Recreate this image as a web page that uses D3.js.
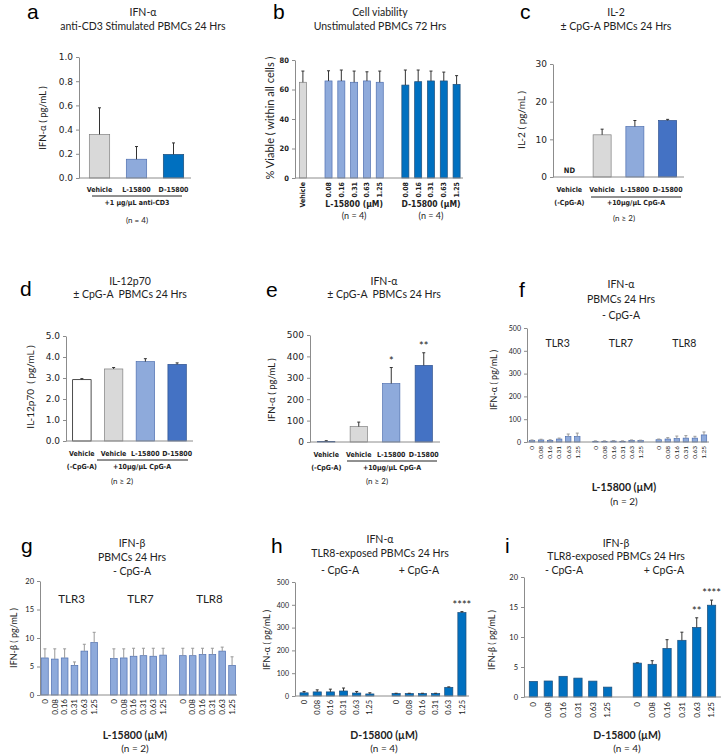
<!DOCTYPE html>
<html>
<head>
<meta charset="utf-8">
<script src="https://cdn.jsdelivr.net/npm/d3@7"></script>
<style>body{margin:0;background:#fff} text{white-space:pre}</style>
</head>
<body>
<script>
// ---- data ----
const doses = ["0", "0.08", "0.16", "0.31", "0.63", "1.25"];
const bDoses = ["0.08", "0.16", "0.31", "0.63", "1.25"];
const tlrs = ["TLR3", "TLR7", "TLR8"];
const cpgSets = ["- CpG-A", "+ CpG-A"];

// a: IFN-a, anti-CD3 stimulated
const aGroups = ["Vehicle", "L-15800", "D-15800"];
const aMean = [0.36, 0.155, 0.195];
const aSD = [0.22, 0.105, 0.095];

// b: cell viability
const bVehicleMean = 64.9, bVehicleSD = 7.6;
const bLMean = [65.8, 65.8, 64.9, 65.8, 64.9];
const bLSD = [6.9, 7.4, 7.6, 6.2, 7.6];
const bDMean = [63.0, 65.3, 65.8, 65.8, 63.5];
const bDSD = [10.2, 7.9, 6.7, 6.0, 5.9];

// c: IL-2 (first group not detected)
const cdeGroups = ["Vehicle", "Vehicle", "L-15800", "D-15800"];
const cMean = [null, 11.2, 13.4, 15.0];
const cSD = [null, 1.5, 1.6, 0.3];

// d: IL-12p70
const dMean = [2.92, 3.43, 3.78, 3.65];
const dSD = [0.05, 0.07, 0.14, 0.07];

// e: IFN-a +/- CpG-A
const eMean = [3, 72, 273, 358];
const eSD = [3, 21, 75, 59];
const eStars = ["", "", "*", "**"];

// f: IFN-a, L-15800 by TLR
const fMean = [[6, 9, 7, 13, 24, 24], [3, 3, 4, 3, 7, 6], [10, 13, 15, 17, 17, 31]];
const fSD = [[3, 3, 3, 4, 11, 15], [2, 2, 2, 2, 2, 2], [3, 6, 11, 11, 8, 13]];

// g: IFN-b, L-15800 by TLR
const gMean = [[6.5, 6.3, 6.5, 5.2, 7.7, 9.2], [6.4, 6.5, 6.8, 6.9, 6.8, 7.0], [6.9, 6.9, 7.1, 7.1, 7.7, 5.2]];
const gSD = [[1.6, 1.8, 1.6, 0.6, 1.2, 1.8], [1.7, 1.6, 1.4, 1.3, 1.4, 1.2], [1.3, 1.3, 1.1, 1.1, 0.7, 1.5]];

// h: IFN-a, TLR8-exposed, D-15800
const hMean = [[14, 18, 18, 22, 13, 9], [11, 11, 11, 11, 38, 366]];
const hSD = [[6, 9, 12, 13, 7, 5], [1, 1, 1, 1, 2, 4]];
const hStars = [["", "", "", "", "", ""], ["", "", "", "", "", "****"]];

// i: IFN-b, TLR8-exposed, D-15800
const iMean = [[2.6, 2.67, 3.45, 3.15, 2.65, 1.65], [5.65, 5.45, 8.1, 9.45, 11.6, 15.3]];
const iSD = [[0, 0, 0, 0, 0, 0], [0.05, 0.6, 1.45, 1.35, 1.6, 0.85]];
const iStars = [["", "", "", "", "", ""], ["", "", "", "", "**", "****"]];

// ---- style ----
const CAL = "Lato, 'Open Sans', sans-serif";
const NAR = "'DejaVu Sans Condensed', 'Liberation Sans Narrow', 'DejaVu Sans', sans-serif";
const VER = "'DejaVu Sans', Verdana, sans-serif";
const AXIS = "#8c8c8c";
const WHITE = "#ffffff", GREY = "#d9d9d9", LIGHT = "#8eaadb", DARK = "#0070c0", MID = "#4472c4";
const STROKE = {[WHITE]: "#000", [GREY]: "#808080", [LIGHT]: "#4f6fb0", [DARK]: "#1f4e79", [MID]: "#2f528f"};

const svg = d3.select("body").append("svg").attr("width", 726).attr("height", 755);

function txt(g, x, y, s, o = {}) {
  return g.append("text").attr("x", x).attr("y", y).text(s)
    .attr("text-anchor", o.anchor || "middle")
    .attr("font-family", o.family || CAL)
    .attr("font-size", o.size || 10.5)
    .attr("font-weight", o.weight || "normal")
    .attr("fill", o.fill || "#222");
}

function panel(o) {
  const g = svg.append("g");
  const y = d3.scaleLinear().domain([0, o.yMax]).range([o.yBottom, o.yTop]);
  const x = d3.scaleBand().domain(d3.range(o.nSlots)).range(o.band)
      .paddingInner(o.pad).paddingOuter(o.pad / 2);
  const cx = s => x(s) + x.bandwidth() / 2;

  txt(g, o.letter[1], o.letter[2], o.letter[0],
      {anchor: "start", family: "'Liberation Sans', Arial, sans-serif", size: 21, fill: "#000"});
  o.titles.forEach(t => txt(g, t[1], t[2], t[0], {size: t[3] || 10.5}));

  const ya = g.append("g").attr("transform", `translate(${o.axisX},0)`)
    .call(d3.axisLeft(y).tickValues(d3.range(0, o.yMax + o.step / 2, o.step))
      .tickFormat(d3.format(o.fmt)).tickSize(3).tickSizeOuter(0).tickPadding(3));
  ya.select(".domain").attr("stroke", AXIS);
  ya.selectAll(".tick line").attr("stroke", AXIS);
  ya.selectAll(".tick text").attr("font-family", o.tickFamily || VER).attr("font-size", o.tickSize || 9)
    .attr("font-weight", o.tickWeight || "normal").attr("fill", "#222");

  txt(g, 0, 0, o.ylabel, {size: o.ylabelSize || 9.5})
    .attr("dy", "0.35em")
    .attr("transform", `translate(${o.ylabelPos[0]},${o.ylabelPos[1]}) rotate(-90)`);

  const bars = o.bars.filter(d => d.value != null);
  g.append("g").selectAll("rect").data(bars).join("rect")
    .attr("x", d => x(d.slot)).attr("width", x.bandwidth())
    .attr("y", d => y(d.value)).attr("height", d => y(0) - y(d.value))
    .attr("fill", d => d.color).attr("stroke", d => STROKE[d.color]).attr("stroke-width", 0.7);

  g.append("g").attr("stroke", o.errColor || "#333").attr("stroke-width", 1).attr("fill", "none")
    .selectAll("path").data(bars.filter(d => d.sd > 0)).join("path")
    .attr("d", d => `M${cx(d.slot)},${y(d.value)}V${y(d.value + d.sd)}M${cx(d.slot) - 1.5},${y(d.value + d.sd)}h3`);

  g.append("line").attr("x1", o.axisX).attr("x2", o.axisEnd)
    .attr("y1", y(0)).attr("y2", y(0)).attr("stroke", AXIS);

  g.selectAll(null).data(bars.filter(d => d.star)).join("text")
    .attr("x", d => cx(d.slot)).attr("y", d => y(d.value + d.sd) - 3)
    .attr("text-anchor", "middle").attr("font-family", CAL).attr("font-size", 11)
    .attr("fill", "#222").text(d => d.star);

  return {g, x, y, cx};
}

function rotLabels(p, slots, labels, top, o = {}) {
  p.g.selectAll(null).data(slots).join("text")
    .attr("transform", s => `translate(${p.cx(s)},${top}) rotate(-90)`)
    .attr("dy", "0.35em").attr("text-anchor", "end")
    .attr("font-family", o.family || CAL).attr("font-size", o.size || 8)
    .attr("font-weight", o.weight || "normal").attr("fill", "#222")
    .text((s, i) => labels[i]);
}

function underline(p, x1, x2, yy) {
  p.g.append("line").attr("x1", x1).attr("x2", x2).attr("y1", yy).attr("y2", yy)
    .attr("stroke", "#222").attr("stroke-width", 1);
}

const bold7 = {family: NAR, weight: "bold", size: 7};

// ---- a ----
const pa = panel({
  letter: ["a", 27, 19],
  titles: [["IFN-α", 143, 16], ["anti-CD3 Stimulated PBMCs 24 Hrs", 143, 30]],
  axisX: 79, axisEnd: 191, band: [81, 192], nSlots: 3, pad: 0.45,
  yTop: 57, yBottom: 178, yMax: 1, step: 0.2, fmt: ".1f",
  ylabel: "IFN-α ( pg/mL )", ylabelPos: [43, 118],
  bars: aGroups.map((c, i) => ({slot: i, value: aMean[i], sd: aSD[i], color: [GREY, LIGHT, DARK][i]}))
});
aGroups.forEach((c, i) => txt(pa.g, pa.cx(i), 192, c, bold7));
underline(pa, 92, 182, 196);
txt(pa.g, 137, 205, "+1 µg/µL anti-CD3", bold7);
txt(pa.g, 137, 223, "(n = 4)", {size: 8});

// ---- b ----
const pb = panel({
  letter: ["b", 273, 19],
  titles: [["Cell viability", 380, 16], ["Unstimulated PBMCs 72 Hrs", 380, 30]],
  axisX: 295, axisEnd: 463, band: [296.5, 463], nSlots: 13, pad: 0.45,
  yTop: 60, yBottom: 178, yMax: 80, step: 20, fmt: "d",
  tickFamily: NAR, tickWeight: "bold", tickSize: 7.5,
  ylabel: "% Viable ( within all cells )", ylabelPos: [270, 118], ylabelSize: 11,
  bars: [{slot: 0, value: bVehicleMean, sd: bVehicleSD, color: GREY}]
    .concat(bLMean.map((v, i) => ({slot: 2 + i, value: v, sd: bLSD[i], color: LIGHT})))
    .concat(bDMean.map((v, i) => ({slot: 8 + i, value: v, sd: bDSD[i], color: DARK})))
});
rotLabels(pb, [0], ["Vehicle"], 182, bold7);
rotLabels(pb, d3.range(2, 7), bDoses, 182, bold7);
rotLabels(pb, d3.range(8, 13), bDoses, 182, bold7);
txt(pb.g, (pb.cx(2) + pb.cx(6)) / 2, 207, "L-15800 (µM)", {family: NAR, weight: "bold", size: 8.5});
txt(pb.g, (pb.cx(2) + pb.cx(6)) / 2, 219, "(n = 4)", {size: 9});
txt(pb.g, (pb.cx(8) + pb.cx(12)) / 2, 207, "D-15800 (µM)", {family: NAR, weight: "bold", size: 8.5});
txt(pb.g, (pb.cx(8) + pb.cx(12)) / 2, 219, "(n = 4)", {size: 9});

// ---- c ----
const pc = panel({
  letter: ["c", 520, 19],
  titles: [["IL-2", 616, 16], ["± CpG-A PBMCs 24 Hrs", 616, 30]],
  axisX: 553, axisEnd: 684, band: [553, 684], nSlots: 4, pad: 0.45,
  yTop: 64, yBottom: 177, yMax: 30, step: 10, fmt: "d",
  ylabel: "IL-2 ( pg/mL )", ylabelPos: [521, 120], ylabelSize: 10,
  bars: cMean.map((v, i) => ({slot: i, value: v, sd: cSD[i], color: [GREY, GREY, LIGHT, MID][i]}))
});
txt(pc.g, pc.cx(0), 173, "ND", {family: NAR, weight: "bold", size: 7.5});
cdeGroups.forEach((c, i) => txt(pc.g, pc.cx(i), 192, c, bold7));
txt(pc.g, pc.cx(0), 205, "(-CpG-A)", bold7);
underline(pc, 591, 681, 197);
txt(pc.g, 636, 205, "+10µg/µL CpG-A", bold7);
txt(pc.g, 624, 221, "(n ≥ 2)", {size: 8});

// ---- d ----
const pd = panel({
  letter: ["d", 20, 296],
  titles: [["IL-12p70", 130, 285], ["± CpG-A  PBMCs 24 Hrs", 130, 298]],
  axisX: 66, axisEnd: 193, band: [66, 193], nSlots: 4, pad: 0.42,
  yTop: 336, yBottom: 441, yMax: 5, step: 1, fmt: ".1f",
  ylabel: "IL-12p70  ( pg/mL )", ylabelPos: [30, 387], ylabelSize: 10,
  bars: dMean.map((v, i) => ({slot: i, value: v, sd: dSD[i], color: [WHITE, GREY, LIGHT, MID][i]}))
});
cdeGroups.forEach((c, i) => txt(pd.g, pd.cx(i), 456, c, bold7));
txt(pd.g, pd.cx(0), 469, "(-CpG-A)", bold7);
underline(pd, 97, 188, 460);
txt(pd.g, 142, 469, "+10µg/µL CpG-A", bold7);
txt(pd.g, 122, 484, "(n ≥ 2)", {size: 8});

// ---- e ----
const pe = panel({
  letter: ["e", 266, 297],
  titles: [["IFN-α", 384, 285], ["± CpG-A  PBMCs 24 Hrs", 384, 298]],
  axisX: 310, axisEnd: 440, band: [310, 440], nSlots: 4, pad: 0.47,
  yTop: 335, yBottom: 442, yMax: 500, step: 100, fmt: "d",
  ylabel: "IFN-α ( pg/mL )", ylabelPos: [272, 390],
  bars: eMean.map((v, i) => ({slot: i, value: v, sd: eSD[i], star: eStars[i], color: [MID, GREY, LIGHT, MID][i]}))
});
cdeGroups.forEach((c, i) => txt(pe.g, pe.cx(i), 457, c, bold7));
txt(pe.g, pe.cx(0), 470, "(-CpG-A)", bold7);
underline(pe, 347, 437, 461);
txt(pe.g, 392, 470, "+10µg/µL CpG-A", bold7);
txt(pe.g, 377, 484, "(n ≥ 2)", {size: 8});

// ---- f ----
const pf = panel({
  letter: ["f", 519, 297],
  titles: [["IFN-α", 621, 288], ["PBMCs 24 Hrs", 621, 303], ["- CpG-A", 621, 319]],
  axisX: 527, axisEnd: 709, band: [527.5, 708.5], nSlots: 20, pad: 0.4,
  yTop: 328, yBottom: 442, yMax: 500, step: 100, fmt: "d",
  tickFamily: CAL, tickSize: 7,
  ylabel: "IFN-α ( pg/mL )", ylabelPos: [494, 380], ylabelSize: 9, errColor: "#999",
  bars: fMean.flatMap((arr, gi) => arr.map((v, i) => ({slot: gi * 7 + i, value: v, sd: fSD[gi][i], color: LIGHT})))
});
tlrs.forEach((t, gi) => {
  txt(pf.g, (pf.cx(gi * 7) + pf.cx(gi * 7 + 5)) / 2 + 3, 347, t, {size: 10.5});
  rotLabels(pf, d3.range(gi * 7, gi * 7 + 6), doses, 446, {size: 6.5});
});
txt(pf.g, 624, 491, "L-15800 (µM)", {weight: "bold", size: 10.5});
txt(pf.g, 624, 505, "(n = 2)", {size: 10});

// ---- g ----
const pg = panel({
  letter: ["g", 21, 553],
  titles: [["IFN-β", 132, 547], ["PBMCs 24 Hrs", 132, 561], ["- CpG-A", 132, 575]],
  axisX: 40, axisEnd: 237, band: [40, 237], nSlots: 20, pad: 0.32,
  yTop: 581, yBottom: 695, yMax: 20, step: 5, fmt: "d",
  tickFamily: CAL, tickSize: 7.5,
  ylabel: "IFN-β ( pg/mL )", ylabelPos: [14, 638], ylabelSize: 9, errColor: "#999",
  bars: gMean.flatMap((arr, gi) => arr.map((v, i) => ({slot: gi * 7 + i, value: v, sd: gSD[gi][i], color: LIGHT})))
});
tlrs.forEach((t, gi) => {
  txt(pg.g, (pg.cx(gi * 7) + pg.cx(gi * 7 + 5)) / 2 + 2, 603, t, {size: 11.5});
  rotLabels(pg, d3.range(gi * 7, gi * 7 + 6), doses, 699, {size: 8});
});
txt(pg.g, 135, 739, "L-15800 (µM)", {weight: "bold", size: 10.5});
txt(pg.g, 135, 752, "(n = 2)", {size: 10});

// ---- h ----
const ph = panel({
  letter: ["h", 271, 553],
  titles: [["IFN-α", 380, 543], ["TLR8-exposed PBMCs 24 Hrs", 380, 557], [cpgSets[0], 340, 574], [cpgSets[1], 419, 574]],
  axisX: 295, axisEnd: 469, band: [297.5, 468.5], nSlots: 13, pad: 0.38,
  yTop: 582, yBottom: 696, yMax: 500, step: 100, fmt: "d",
  tickFamily: CAL, tickSize: 7,
  ylabel: "IFN-α ( pg/mL )", ylabelPos: [267, 640], ylabelSize: 9,
  bars: hMean.flatMap((arr, gi) => arr.map((v, i) => ({slot: gi * 7 + i, value: v, sd: hSD[gi][i], star: hStars[gi][i], color: DARK})))
});
cpgSets.forEach((c, gi) => rotLabels(ph, d3.range(gi * 7, gi * 7 + 6), doses, 700, {size: 7.5}));
txt(ph.g, 384, 739, "D-15800 (µM)", {weight: "bold", size: 10.5});
txt(ph.g, 384, 752, "(n = 4)", {size: 10});

// ---- i ----
const pi = panel({
  letter: ["i", 505, 553],
  titles: [["IFN-β", 616, 547], ["TLR8-exposed PBMCs 24 Hrs", 616, 560], [cpgSets[0], 564, 574], [cpgSets[1], 664, 574]],
  axisX: 524, axisEnd: 721, band: [526, 719], nSlots: 13, pad: 0.44,
  yTop: 577, yBottom: 697, yMax: 20, step: 5, fmt: "d",
  tickFamily: CAL, tickSize: 7.5,
  ylabel: "IFN-β ( pg/mL )", ylabelPos: [492, 640], ylabelSize: 9,
  bars: iMean.flatMap((arr, gi) => arr.map((v, i) => ({slot: gi * 7 + i, value: v, sd: iSD[gi][i], star: iStars[gi][i], color: DARK})))
});
cpgSets.forEach((c, gi) => rotLabels(pi, d3.range(gi * 7, gi * 7 + 6), doses, 702, {size: 8}));
txt(pi.g, 627, 739, "D-15800 (µM)", {weight: "bold", size: 10.5});
txt(pi.g, 627, 752, "(n = 4)", {size: 10});
</script>
</body>
</html>
